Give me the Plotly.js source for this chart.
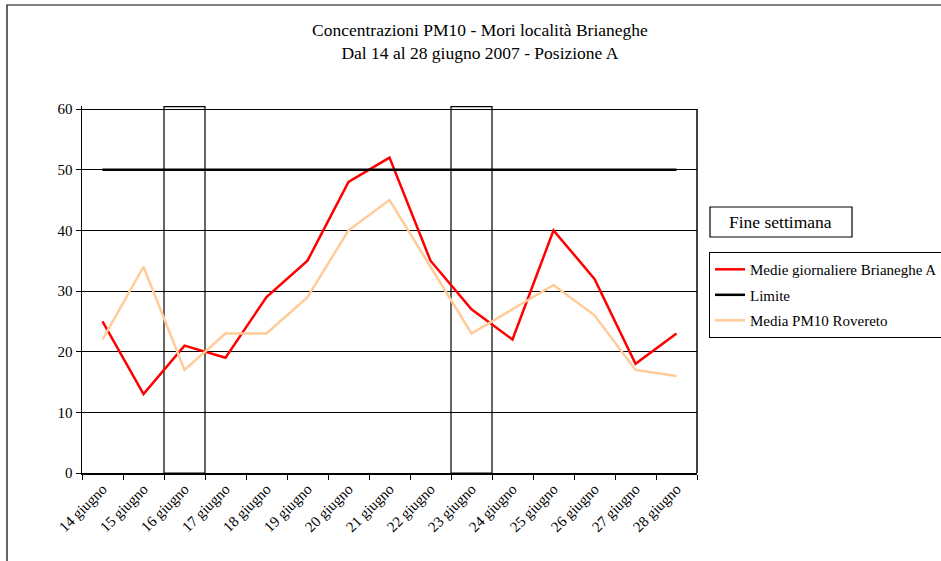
<!DOCTYPE html>
<html><head><meta charset="utf-8">
<script src="https://cdn.plot.ly/plotly-3.0.1.min.js"></script>
<style>html,body{margin:0;padding:0;background:#fff}#chart{width:941px;height:561px}</style>
</head><body><div id="chart"></div>
<script>
const days = ['14 giugno','15 giugno','16 giugno','17 giugno','18 giugno','19 giugno','20 giugno','21 giugno','22 giugno','23 giugno','24 giugno','25 giugno','26 giugno','27 giugno','28 giugno'];
const brianeghe = [25,13,21,19,29,35,48,52,35,27,22,40,32,18,23];
const limite = [50,50,50,50,50,50,50,50,50,50,50,50,50,50,50];
const rovereto = [22,34,17,23,23,29,40,45,34,23,27,31,26,17,16];
const weekendDays = ['16 giugno','23 giugno'];
const weekendTop = [60.4,60.4];
const yTicks = [0,10,20,30,40,50,60];

const serif = '"Liberation Serif"';
const traces = [
  {type:'bar', x:weekendDays, y:weekendTop, width:1, showlegend:false, hoverinfo:'skip',
   marker:{color:'rgba(0,0,0,0)', line:{color:'#000', width:1.2}}},
  {type:'scatter', mode:'lines', name:'Medie giornaliere Brianeghe A', x:days, y:brianeghe,
   line:{color:'#ff0000', width:2.5}, legendgroup:'a'},
  {type:'scatter', mode:'lines', name:'Limite', x:days, y:limite,
   line:{color:'#000000', width:2.5}, legendgroup:'b'},
  {type:'scatter', mode:'lines', name:'Media PM10 Rovereto', x:days, y:rovereto,
   line:{color:'#ffcc99', width:2.5}, legendgroup:'c'}
];
const layout = {
  width:941, height:561,
  margin:{l:82, r:244, t:106, b:88, autoexpand:false},
  paper_bgcolor:'#fff', plot_bgcolor:'#fff',
  font:{family:serif, color:'#000', size:15},
  title:{text:'Concentrazioni PM10 - Mori località Brianeghe<br>Dal 14 al 28 giugno 2007 - Posizione A',
    font:{family:serif, size:17.5, color:'#000'}, x:0.51, xref:'container', xanchor:'center',
    y:0.935, yref:'container', yanchor:'top'},
  xaxis:{type:'category', categoryorder:'array', categoryarray:days, range:[-0.5,14.5],
    tickson:'boundaries', ticks:'outside', ticklen:5, tickcolor:'#000', tickwidth:1,
    tickangle:-45, showgrid:false, showline:true, linecolor:'#000', linewidth:1.5,
    tickfont:{family:serif, size:15}, fixedrange:true},
  yaxis:{range:[0,60.5], tickvals:yTicks, ticks:'outside', ticklen:5, tickcolor:'#000',
    showgrid:true, gridcolor:'#000', gridwidth:1, zeroline:false,
    showline:true, linecolor:'#000', linewidth:1.5, tickfont:{family:serif, size:15}, fixedrange:true},
  showlegend:true,
  legend:{x:1.0195, xanchor:'left', y:0.602, yanchor:'top', bordercolor:'#000', borderwidth:1,
    bgcolor:'#fff', font:{family:serif, size:15, color:'#000'}, traceorder:'grouped',
    tracegroupgap:3, itemwidth:30},
  shapes:[
    {type:'line', xref:'paper', yref:'y', x0:1, x1:1, y0:0, y1:60, line:{color:'#000', width:1.5}},
    {type:'rect', xref:'paper', yref:'paper', x0:(7-82)/615, x1:1.5, y0:(473-5)/367, y1:-1,
      line:{color:'#000', width:1.2}, layer:'below'},
    {type:'rect', xref:'paper', yref:'paper', x0:(710-82)/615, x1:(852-82)/615,
      y0:(473-207)/367, y1:(473-237)/367, line:{color:'#000', width:1.2}}
  ],
  annotations:[
    {text:'Fine settimana', xref:'paper', yref:'paper', x:(781-82)/615, y:(473-222)/367,
     xanchor:'center', yanchor:'middle', showarrow:false, font:{family:serif, size:17.5, color:'#000'}}
  ]
};
Plotly.newPlot('chart', traces, layout, {displayModeBar:false, staticPlot:true});
</script></body></html>
